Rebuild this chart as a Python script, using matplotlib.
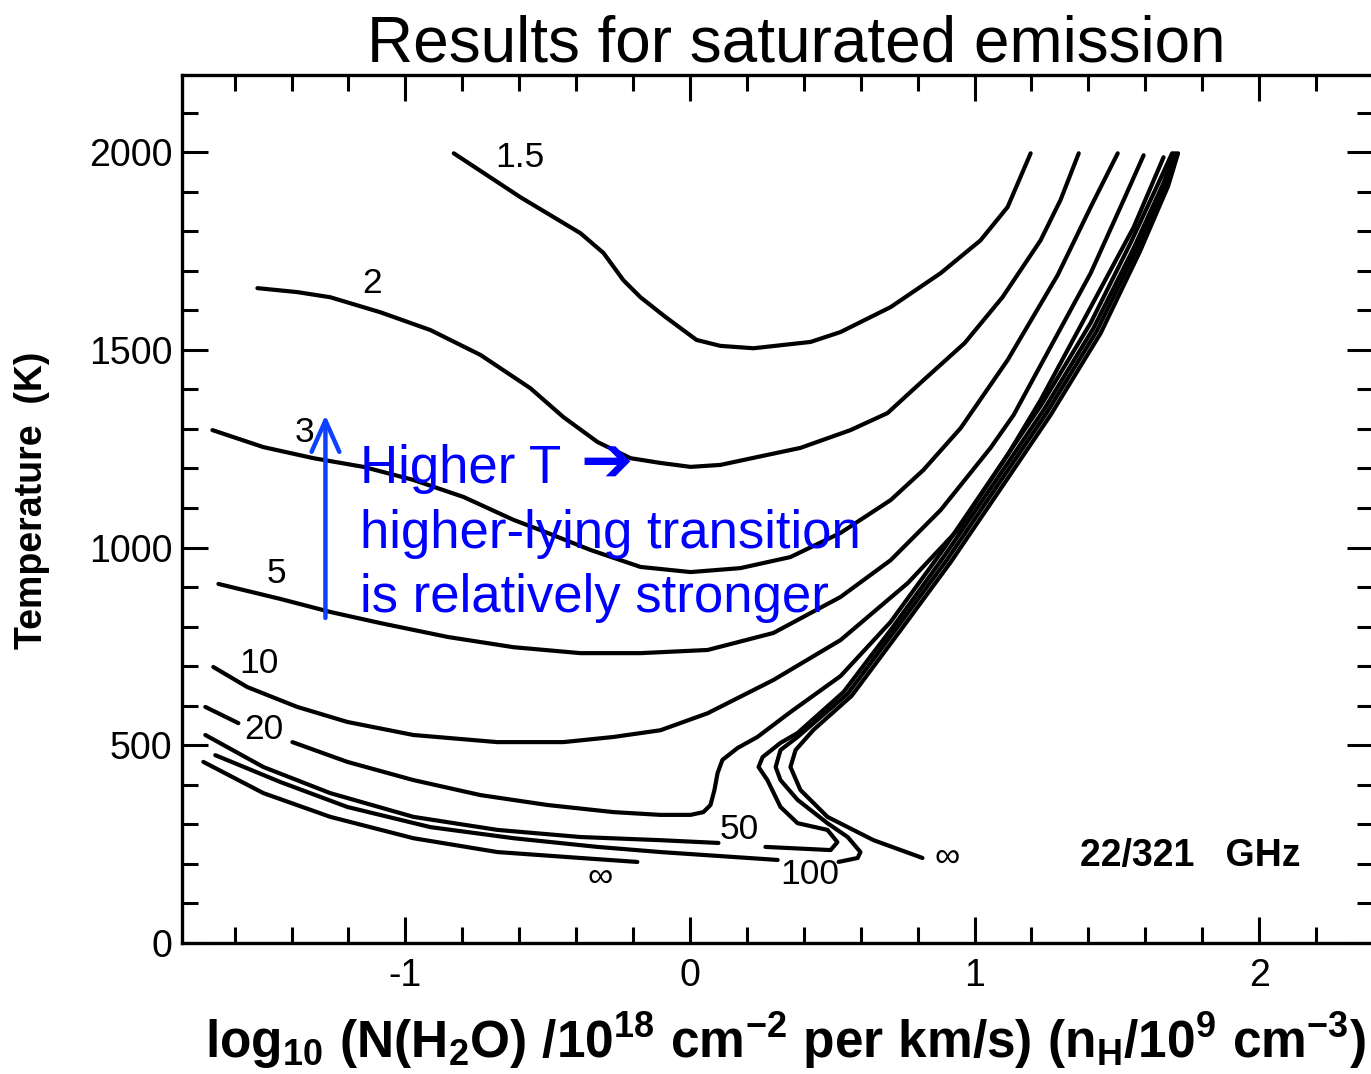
import matplotlib
matplotlib.use('Agg')
import matplotlib.pyplot as plt
from matplotlib.ticker import MultipleLocator

plt.rcParams['font.family'] = ['Liberation Sans', 'DejaVu Sans']
plt.rcParams['mathtext.fontset'] = 'custom'
plt.rcParams['mathtext.rm'] = 'Liberation Sans:bold'
plt.rcParams['mathtext.it'] = 'Liberation Sans:bold'
plt.rcParams['mathtext.bf'] = 'Liberation Sans:bold'

# contour lines: x = log10 N/dv, y = temperature (K)
c15_x = [-0.83, -0.596, -0.385, -0.304, -0.234, -0.174, -0.086, 0.023, 0.107, 0.223, 0.424, 0.529, 0.705, 0.881, 1.021, 1.116, 1.197]
c15_y = [1997, 1886, 1795, 1745, 1676, 1633, 1583, 1525, 1510, 1504, 1520, 1545, 1608, 1694, 1777, 1861, 1997]

c2_x = [-1.52, -1.38, -1.264, -1.088, -0.912, -0.736, -0.561, -0.445, -0.325, -0.209, -0.104, 0.002, 0.107, 0.237, 0.388, 0.564, 0.694, 0.82, 0.965, 1.098, 1.232, 1.302, 1.366]
c2_y = [1656, 1646, 1633, 1595, 1550, 1487, 1403, 1330, 1267, 1226, 1214, 1204, 1209, 1229, 1252, 1297, 1340, 1423, 1517, 1633, 1777, 1879, 1997]

c3_x = [-1.678, -1.499, -1.323, -1.147, -0.972, -0.796, -0.62, -0.525, -0.35, -0.174, 0.002, 0.177, 0.353, 0.529, 0.705, 0.82, 0.951, 1.116, 1.292, 1.408, 1.503]
c3_y = [1297, 1254, 1226, 1204, 1171, 1128, 1070, 1044, 994, 951, 938, 948, 976, 1037, 1120, 1196, 1302, 1474, 1689, 1861, 1997]

c5_x = [-1.657, -1.439, -1.263, -1.088, -0.852, -0.62, -0.385, -0.174, 0.062, 0.293, 0.529, 0.705, 0.881, 1.056, 1.137, 1.232, 1.408, 1.524, 1.594]
c5_y = [908, 870, 837, 809, 774, 748, 733, 733, 741, 784, 875, 968, 1095, 1252, 1335, 1461, 1694, 1879, 1992]

c10_x = [-1.675, -1.555, -1.38, -1.204, -0.972, -0.677, -0.445, -0.269, -0.104, 0.062, 0.293, 0.529, 0.765, 0.94, 1.116, 1.232, 1.408, 1.559, 1.664]
c10_y = [698, 647, 597, 559, 526, 508, 508, 521, 538, 581, 665, 766, 910, 1044, 1234, 1373, 1608, 1810, 1987]

# 20, 50, 100 are broken where their labels sit
c20a_x = [-1.703, -1.587]
c20a_y = [597, 556]
c20b_x = [-1.397, -1.204, -0.972, -0.736, -0.501, -0.269, -0.104, 0.002, 0.047, 0.072, 0.086, 0.097, 0.114, 0.167, 0.237, 0.353, 0.529, 0.705, 0.881, 1.056, 1.232, 1.408, 1.548, 1.654, 1.694]
c20b_y = [508, 458, 412, 374, 349, 331, 324, 324, 331, 349, 387, 430, 463, 493, 521, 584, 675, 812, 986, 1171, 1358, 1568, 1770, 1934, 1997]

c50a_x = [-1.703, -1.499, -1.264, -0.972, -0.677, -0.385, -0.104, 0.1]
c50a_y = [526, 445, 379, 319, 286, 268, 260, 253]
c50b_x = [0.265, 0.494, 0.518, 0.483, 0.378, 0.318, 0.272, 0.241, 0.255, 0.318, 0.378, 0.54, 0.715, 0.891, 1.067, 1.243, 1.418, 1.559, 1.664, 1.701]
c50b_y = [243, 235, 255, 286, 303, 344, 412, 445, 470, 506, 531, 635, 801, 976, 1161, 1348, 1555, 1757, 1922, 1997]

c100a_x = [-1.668, -1.439, -1.204, -0.912, -0.62, -0.325, -0.104, 0.308]
c100a_y = [475, 407, 344, 293, 265, 243, 230, 210]
c100b_x = [0.522, 0.589, 0.599, 0.554, 0.483, 0.378, 0.318, 0.301, 0.318, 0.378, 0.554, 0.726, 0.902, 1.077, 1.253, 1.429, 1.569, 1.671, 1.708]
c100b_y = [205, 215, 230, 268, 303, 362, 412, 445, 488, 521, 630, 796, 968, 1153, 1340, 1547, 1752, 1917, 1997]

cinf_left_x = [-1.71, -1.499, -1.264, -0.972, -0.677, -0.385, -0.185]
cinf_left_y = [458, 379, 319, 265, 230, 215, 205]
cinf_right_x = [0.817, 0.645, 0.483, 0.388, 0.353, 0.371, 0.434, 0.568, 0.74, 0.916, 1.091, 1.267, 1.443, 1.58, 1.68, 1.715]
cinf_right_y = [215, 260, 319, 387, 445, 488, 539, 625, 791, 963, 1148, 1335, 1542, 1747, 1914, 1997]

label_text = ['1.5', '2', '3', '5', '10', '20', '50', '100', '\u221e', '\u221e']
label_x = [-0.598, -1.116, -1.355, -1.453, -1.513, -1.496, 0.174, 0.42, -0.315, 0.905]
label_y = [1987, 1669, 1292, 935, 708, 541, 286, 172, 167, 217]

xticks = [-1, 0, 1, 2]
xtick_labels = ['-1', '0', '1', '2']
yticks = [0, 500, 1000, 1500, 2000]

fig = plt.figure(figsize=(13.71, 10.74), dpi=100)
ax = fig.add_axes([182 / 1371, 1 - 943 / 1074, (1373 - 182) / 1371, (943 - 75) / 1074])

curves = [(c15_x, c15_y), (c2_x, c2_y), (c3_x, c3_y), (c5_x, c5_y), (c10_x, c10_y),
          (c20a_x, c20a_y), (c20b_x, c20b_y), (c50a_x, c50a_y), (c50b_x, c50b_y),
          (c100a_x, c100a_y), (c100b_x, c100b_y), (cinf_left_x, cinf_left_y),
          (cinf_right_x, cinf_right_y)]
for cx, cy in curves:
    ax.plot(cx, cy, color='black', lw=3.0, solid_joinstyle='round', solid_capstyle='round')

for t, lx, ly in zip(label_text, label_x, label_y):
    ax.text(lx, ly, t, fontsize=25.5, ha='center', va='center', color='black',
            family=['Liberation Sans', 'DejaVu Sans'])

ax.text(1.372, 195, '22/321   GHz', fontsize=27, fontweight='bold', ha='left', va='baseline')

# blue annotation
ax.annotate('', xy=(-1.281, 1335), xytext=(-1.281, 822),
            arrowprops=dict(arrowstyle='->,head_length=0.9,head_width=0.4',
                            color='#1040ff', lw=3.2, mutation_scale=25,
                            shrinkA=0, shrinkB=0))
blue_lines = ['Higher T', 'higher-lying transition', 'is relatively stronger']
blue_y = [1164, 1000, 838]
for t, by in zip(blue_lines, blue_y):
    ax.text(-1.158, by, t, fontsize=38, color='#0000ff', ha='left', va='baseline',
            family=['Liberation Sans', 'DejaVu Sans'])
ax.text(-0.385, 1166, '\u2794', fontsize=45, color='#0000ff', ha='left', va='baseline',
        family=['DejaVu Sans'])

ax.set_xlim(-1.785, 2.40)
ax.set_ylim(0, 2195)
ax.set_xticks(xticks)
ax.set_xticklabels(xtick_labels)
ax.set_yticks(yticks)
ax.xaxis.set_minor_locator(MultipleLocator(0.2))
ax.yaxis.set_minor_locator(MultipleLocator(100))
ax.tick_params(which='both', direction='in', top=True, right=True, width=2.2, labelsize=27)
ax.tick_params(which='major', length=19)
ax.tick_params(which='minor', length=11.5)
ax.tick_params(axis='x', pad=11)
ax.tick_params(axis='y', pad=7)
for sp in ax.spines.values():
    sp.set_linewidth(2.4)

fig.text(796 / 1371, 1 - 62 / 1074, 'Results for saturated emission', fontsize=46,
         ha='center', va='baseline')
fig.text(785 / 1371, 1 - 1058 / 1074,
         r'$\mathrm{log_{10}\ (N(H_2O)\ /10^{18}\ cm^{-2}\ per\ km/s)\ (n_H/10^9\ cm^{-3})}$',
         fontsize=37, ha='center', va='baseline')
fig.text(32 / 1371, 1 - 500 / 1074, 'Temperature  (K)', fontsize=27, fontweight='bold',
         rotation=90, ha='center', va='center')

plt.savefig('out.png', dpi=100)
